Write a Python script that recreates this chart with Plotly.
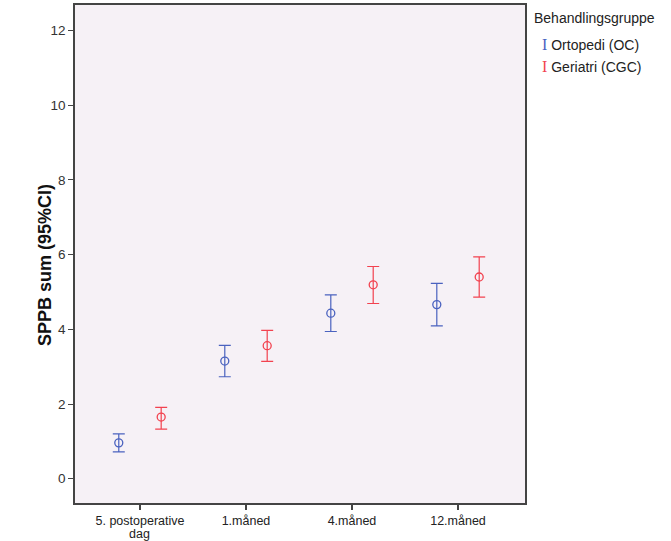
import plotly.graph_objects as go

categories = ["5. postoperative\ndag", "1.måned", "4.måned", "12.måned"]
groups = ["Ortopedi (OC)", "Geriatri (CGC)"]
oc_mean = [0.96, 3.15, 4.43, 4.66]
oc_low = [0.72, 2.73, 3.94, 4.09]
oc_high = [1.20, 3.57, 4.92, 5.23]
cgc_mean = [1.65, 3.56, 5.19, 5.40]
cgc_low = [1.33, 3.14, 4.69, 4.86]
cgc_high = [1.91, 3.97, 5.68, 5.94]
y_ticks = [0, 2, 4, 6, 8, 10, 12]

colors = ["#4a62bf", "#f2424f"]
offsets = [-0.2, 0.2]

fig = go.Figure()
for mean, low, high, col, off, name in [
    (oc_mean, oc_low, oc_high, colors[0], offsets[0], groups[0]),
    (cgc_mean, cgc_low, cgc_high, colors[1], offsets[1], groups[1]),
]:
    xs = [i + off for i in range(len(categories))]
    fig.add_trace(go.Scatter(
        x=xs, y=mean, mode="markers", name=name, showlegend=False, hoverinfo="skip",
        marker=dict(symbol="circle-open", size=8, color=col, line=dict(width=1.3, color=col)),
        error_y=dict(type="data", symmetric=False,
                     array=[h - m for h, m in zip(high, mean)],
                     arrayminus=[m - l for m, l in zip(mean, low)],
                     color=col, thickness=1.2, width=6),
    ))

# first line of each category as tick label; continuation lines as tighter annotations
first_lines = [c.split("\n")[0] for c in categories]
extra_lines = [(i, c.split("\n", 1)[1]) for i, c in enumerate(categories) if "\n" in c]

annotations = [
    dict(text="<b>SPPB sum (95%CI)</b>", textangle=-90, xref="paper", yref="paper",
         x=-0.093, y=0.478, showarrow=False, font=dict(size=18, color="#111")),
    dict(text="Behandlingsgruppe", xref="paper", yref="paper", x=1.016, y=0.974,
         xanchor="left", yanchor="middle", showarrow=False, font=dict(size=14, color="#222")),
]
for k, (g, col, yy) in enumerate(zip(groups, colors, [0.92, 0.877])):
    annotations.append(dict(
        text=f"<span style='color:{col};font-family:Liberation Serif;font-size:16px'>I</span> {g}",
        xref="paper", yref="paper", x=1.033, y=yy,
        xanchor="left", yanchor="middle", showarrow=False, font=dict(size=14, color="#222")))
for i, txt in extra_lines:
    annotations.append(dict(
        text=txt, xref="x", yref="paper", x=i, y=-0.0622, xanchor="center", yanchor="middle",
        showarrow=False, borderpad=0, font=dict(size=12.5, color="#222")))

fig.update_layout(
    width=671, height=541,
    margin=dict(l=75, r=146, t=5, b=38, autoexpand=False),
    paper_bgcolor="white",
    plot_bgcolor="#f6f1f6",
    font=dict(family="Liberation Sans, Arial, sans-serif", size=13, color="#222"),
    xaxis=dict(
        range=[-0.613, 3.632], tickmode="array", automargin=False,
        tickvals=list(range(len(categories))), ticktext=first_lines,
        showgrid=False, zeroline=False, showline=True, mirror=True,
        linecolor="#444", linewidth=1.5, ticks="outside", ticklen=5,
        tickcolor="#444", tickwidth=1.5, tickfont=dict(size=12.5, color="#222"),
        ticklabelstandoff=0,
    ),
    yaxis=dict(
        range=[-0.65, 12.68], tickmode="array", tickvals=y_ticks, automargin=False,
        showgrid=False, zeroline=False, showline=True, mirror=True,
        linecolor="#444", linewidth=1.5, ticks="outside", ticklen=5,
        tickcolor="#444", tickwidth=1, tickfont=dict(size=13.5, color="#333"),
    ),
    annotations=annotations,
)

fig.write_html(
    "out.html",
    config={"displayModeBar": False},
    post_script="document.body.style.margin='0';document.documentElement.style.overflow='hidden';",
)
